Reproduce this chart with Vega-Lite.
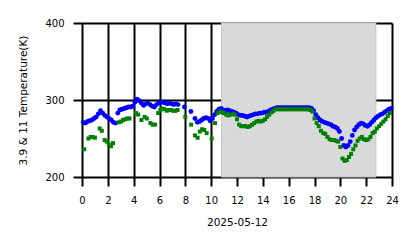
{
  "$schema": "https://vega.github.io/schema/vega-lite/v6.json",
  "width": 310,
  "height": 154,
  "autosize": "none",
  "padding": {"left": 82, "top": 23, "right": 26, "bottom": 71},
  "background": "white",
  "config": {
    "view": {"stroke": null},
    "font": "DejaVu Sans",
    "axis": {
      "zindex": 1,
      "grid": true,
      "gridColor": "#000000",
      "gridWidth": 2,
      "gridOpacity": 1,
      "domain": false,
      "tickColor": "#000000",
      "tickWidth": 2,
      "tickSize": 9,
      "labelFont": "DejaVu Sans",
      "labelFontSize": 10,
      "labelColor": "#000000",
      "labelOverlap": false,
      "titleFont": "DejaVu Sans",
      "titleFontWeight": "normal",
      "titleColor": "#000000",
      "titleFontSize": 10.5
    }
  },
  "datasets": {
    "shade": [{"start": 10.8, "end": 22.75}],
    "blue": [
      {"h":0.1,"k":271},{"h":0.27,"k":270},{"h":0.43,"k":272},{"h":0.6,"k":273},{"h":0.77,"k":274},{"h":0.93,"k":276},
      {"h":1.1,"k":278},{"h":1.27,"k":282},{"h":1.43,"k":286},{"h":1.6,"k":283},{"h":1.77,"k":280},{"h":1.93,"k":278},
      {"h":2.1,"k":276},{"h":2.27,"k":274},{"h":2.43,"k":271},{"h":2.6,"k":270},{"h":2.77,"k":283},{"h":2.93,"k":287},
      {"h":3.1,"k":288},{"h":3.27,"k":289},{"h":3.43,"k":290},{"h":3.6,"k":291},{"h":3.77,"k":291},{"h":3.93,"k":292},
      {"h":4.1,"k":297},{"h":4.27,"k":301},{"h":4.43,"k":299},{"h":4.6,"k":296},{"h":4.77,"k":293},{"h":4.93,"k":295},
      {"h":5.1,"k":296},{"h":5.27,"k":294},{"h":5.43,"k":292},{"h":5.6,"k":291},{"h":5.77,"k":294},{"h":5.93,"k":296},
      {"h":6.1,"k":297},{"h":6.27,"k":297},{"h":6.43,"k":296},{"h":6.6,"k":295},{"h":6.77,"k":296},{"h":6.93,"k":295},
      {"h":7.1,"k":294},{"h":7.27,"k":295},{"h":7.43,"k":294},{"h":7.93,"k":291},{"h":8.43,"k":285},{"h":8.75,"k":276},
      {"h":8.93,"k":271},{"h":9.1,"k":272},{"h":9.27,"k":274},{"h":9.43,"k":276},{"h":9.6,"k":277},{"h":9.77,"k":276},
      {"h":9.93,"k":273},{"h":10.1,"k":276},{"h":10.27,"k":281},{"h":10.43,"k":285},{"h":10.6,"k":288},{"h":10.77,"k":289},
      {"h":10.93,"k":287},{"h":11.1,"k":286},{"h":11.27,"k":287},{"h":11.43,"k":286},{"h":11.6,"k":285},{"h":11.77,"k":284},
      {"h":11.93,"k":283},{"h":12.1,"k":281},{"h":12.27,"k":280},{"h":12.43,"k":280},{"h":12.6,"k":279},{"h":12.77,"k":278},
      {"h":12.93,"k":279},{"h":13.1,"k":280},{"h":13.27,"k":281},{"h":13.43,"k":282},{"h":13.6,"k":282},{"h":13.77,"k":283},
      {"h":13.93,"k":283},{"h":14.1,"k":284},{"h":14.27,"k":284},{"h":14.43,"k":285},{"h":14.6,"k":287},{"h":14.77,"k":288},
      {"h":14.93,"k":289},{"h":15.1,"k":290},{"h":15.27,"k":290},{"h":15.43,"k":290},{"h":15.6,"k":290},{"h":15.77,"k":290},
      {"h":15.93,"k":290},{"h":16.1,"k":290},{"h":16.27,"k":290},{"h":16.43,"k":290},{"h":16.6,"k":290},{"h":16.77,"k":290},
      {"h":16.93,"k":290},{"h":17.1,"k":290},{"h":17.27,"k":290},{"h":17.43,"k":290},{"h":17.6,"k":290},{"h":17.77,"k":289},
      {"h":17.93,"k":286},{"h":18.1,"k":281},{"h":18.27,"k":277},{"h":18.43,"k":274},{"h":18.6,"k":272},{"h":18.77,"k":271},
      {"h":18.93,"k":270},{"h":19.1,"k":269},{"h":19.27,"k":268},{"h":19.43,"k":266},{"h":19.6,"k":265},{"h":19.77,"k":263},
      {"h":19.93,"k":259},{"h":20.1,"k":250},{"h":20.27,"k":241},{"h":20.43,"k":239},{"h":20.6,"k":241},{"h":20.77,"k":246},
      {"h":20.93,"k":254},{"h":21.1,"k":261},{"h":21.27,"k":265},{"h":21.43,"k":268},{"h":21.6,"k":270},{"h":21.77,"k":269},
      {"h":21.93,"k":267},{"h":22.1,"k":266},{"h":22.27,"k":268},{"h":22.43,"k":271},{"h":22.6,"k":274},{"h":22.77,"k":277},
      {"h":22.93,"k":279},{"h":23.1,"k":281},{"h":23.27,"k":282},{"h":23.43,"k":284},{"h":23.6,"k":286},{"h":23.77,"k":288},
      {"h":23.93,"k":289}
    ],
    "green": [
      {"h":0.17,"k":236},{"h":0.5,"k":250},{"h":0.67,"k":252},{"h":0.83,"k":252},{"h":1.0,"k":251},{"h":1.37,"k":263},
      {"h":1.53,"k":260},{"h":1.75,"k":248},{"h":1.92,"k":246},{"h":2.08,"k":242},{"h":2.25,"k":240},{"h":2.4,"k":244},
      {"h":2.85,"k":271},{"h":3.02,"k":272},{"h":3.18,"k":274},{"h":3.35,"k":275},{"h":3.52,"k":276},{"h":3.68,"k":276},
      {"h":4.18,"k":283},{"h":4.35,"k":281},{"h":4.6,"k":274},{"h":4.85,"k":278},{"h":5.02,"k":276},{"h":5.3,"k":270},
      {"h":5.47,"k":268},{"h":5.65,"k":268},{"h":5.9,"k":283},{"h":6.07,"k":287},{"h":6.23,"k":289},{"h":6.4,"k":288},
      {"h":6.57,"k":286},{"h":6.73,"k":287},{"h":6.9,"k":287},{"h":7.07,"k":286},{"h":7.23,"k":286},{"h":7.4,"k":287},
      {"h":8.0,"k":278},{"h":8.45,"k":268},{"h":8.75,"k":254},{"h":8.95,"k":251},{"h":9.12,"k":259},{"h":9.3,"k":262},
      {"h":9.47,"k":261},{"h":9.65,"k":257},{"h":10.04,"k":250},{"h":10.3,"k":270},{"h":10.5,"k":283},{"h":10.67,"k":285},
      {"h":10.83,"k":284},{"h":11.0,"k":283},{"h":11.17,"k":281},{"h":11.33,"k":280},{"h":11.5,"k":281},{"h":11.67,"k":282},
      {"h":11.83,"k":281},{"h":12.0,"k":275},{"h":12.17,"k":268},{"h":12.33,"k":266},{"h":12.5,"k":266},{"h":12.67,"k":266},
      {"h":12.83,"k":265},{"h":13.0,"k":266},{"h":13.17,"k":268},{"h":13.33,"k":270},{"h":13.5,"k":272},{"h":13.67,"k":273},
      {"h":13.83,"k":272},{"h":14.0,"k":273},{"h":14.17,"k":275},{"h":14.33,"k":278},{"h":14.5,"k":281},{"h":14.67,"k":284},
      {"h":14.83,"k":286},{"h":15.0,"k":288},{"h":15.17,"k":288},{"h":15.33,"k":288},{"h":15.5,"k":288},{"h":15.67,"k":288},
      {"h":15.83,"k":288},{"h":16.0,"k":288},{"h":16.17,"k":288},{"h":16.33,"k":288},{"h":16.5,"k":288},{"h":16.67,"k":288},
      {"h":16.83,"k":288},{"h":17.0,"k":288},{"h":17.17,"k":288},{"h":17.33,"k":288},{"h":17.5,"k":288},{"h":17.67,"k":287},
      {"h":17.83,"k":285},{"h":18.0,"k":276},{"h":18.17,"k":270},{"h":18.33,"k":266},{"h":18.5,"k":260},{"h":18.67,"k":257},
      {"h":18.83,"k":256},{"h":19.0,"k":252},{"h":19.17,"k":249},{"h":19.33,"k":248},{"h":19.5,"k":248},{"h":19.67,"k":247},
      {"h":19.83,"k":246},{"h":20.0,"k":239},{"h":20.17,"k":224},{"h":20.33,"k":221},{"h":20.5,"k":222},{"h":20.67,"k":226},
      {"h":20.83,"k":230},{"h":21.0,"k":236},{"h":21.17,"k":241},{"h":21.33,"k":247},{"h":21.5,"k":250},{"h":21.67,"k":252},
      {"h":21.83,"k":249},{"h":22.0,"k":248},{"h":22.17,"k":249},{"h":22.33,"k":252},{"h":22.5,"k":257},{"h":22.67,"k":259},
      {"h":22.83,"k":263},{"h":23.0,"k":266},{"h":23.17,"k":269},{"h":23.33,"k":272},{"h":23.5,"k":275},{"h":23.67,"k":279},
      {"h":23.83,"k":283}
    ]
  },
  "encoding": {
    "x": {"type": "quantitative", "scale": {"domain": [0, 24], "nice": false, "zero": false},
      "axis": {"values": [0,2,4,6,8,10,12,14,16,18,20,22,24], "title": "2025-05-12", "labelPadding": 9, "labelFlush": false, "titleBaseline": "middle", "titleY": 45}},
    "y": {"type": "quantitative", "scale": {"domain": [200, 400], "nice": false, "zero": false},
      "axis": {"values": [200, 300, 400], "title": "3.9 & 11 Temperature(K)", "labelPadding": 9, "titleBaseline": "middle", "titleX": -59}}
  },
  "layer": [
    {
      "data": {"name": "shade"},
      "mark": {"type": "rect", "color": "#d9d9d9", "stroke": "#c4c4c4", "strokeWidth": 1},
      "encoding": {
        "x": {"field": "start"},
        "x2": {"field": "end"}
      }
    },
    {
      "data": {"name": "blue"},
      "mark": {"type": "point", "shape": "circle", "filled": true, "color": "#0000ff", "size": 24, "opacity": 1},
      "encoding": {
        "x": {"field": "h"},
        "y": {"field": "k"}
      }
    },
    {
      "data": {"name": "green"},
      "mark": {"type": "point", "shape": "square", "filled": true, "color": "#008000", "size": 16, "opacity": 1},
      "encoding": {
        "x": {"field": "h"},
        "y": {"field": "k"}
      }
    }
  ]
}
